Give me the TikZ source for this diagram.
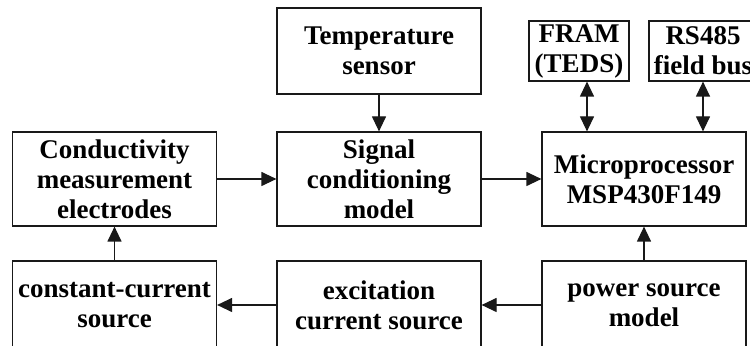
\documentclass[tikz,border=0pt]{standalone}
\usepackage{fontspec}
\setmainfont{Liberation Serif}
\usetikzlibrary{positioning,arrows.meta}
\definecolor{graydarker}{gray}{0.1}
\colorlet{blockline}{graydarker}
\tikzset{
  block/.style={draw=blockline, line width=0.6pt, minimum width=102pt, minimum height=47pt,
    inner sep=0pt, align=center, font=\fontsize{13.5}{15}\selectfont\bfseries},
  smallblock/.style={block, minimum width=50pt, minimum height=30pt},
  link/.style={draw=blockline, line width=0.6pt, -{Triangle[length=7.5pt,width=7pt]}},
  duplex/.style={link, {Triangle[length=7.5pt,width=7pt]}-{Triangle[length=7.5pt,width=7pt]}}
}

\begin{document}
\begin{tikzpicture}[x=0.5pt,y=0.5pt] % one unit = one pixel of the reference
\useasboundingbox (0,0) rectangle (750,-346);
% top row
\node[block, minimum height=43pt] (temp) at (379,-51) {Temperature\\sensor};
\node[smallblock] (fram) at (579,-51) {FRAM\\(TEDS)};
\node[smallblock, minimum width=54pt] (bus) at (703,-51) {RS485\\field bus};
% middle row
\node[block] (electrodes) at (114.5,-179) {Conductivity\\measurement\\electrodes};
\node[block] (signal) at (379,-179) {Signal\\conditioning\\model};
\node[block] (mcu) at (644,-179) {Microprocessor\\MSP430F149};
% bottom row, cut off by the page edge
\node[block, minimum height=44pt] (ccsource) at (114.5,-305) {constant-current\\source};
\node[block, minimum height=44pt] (excitation) at (379,-305) {excitation\\current source};
\node[block, minimum height=44pt] (power) at (644,-305) {power source\\model};
% connectors
\draw[link] (temp) -- (signal);
\draw[link] (electrodes) -- (signal);
\draw[link] (signal) -- (mcu);
\draw[duplex] ([xshift=4pt]fram.south) -- ([xshift=4pt]fram.south |- mcu.north);
\draw[duplex] (bus.south) -- (bus.south |- mcu.north);
\draw[link] (power) -- (mcu);
\draw[link] (power) -- (excitation);
\draw[link] (excitation) -- (ccsource);
\draw[link] (ccsource) -- (electrodes);
\end{tikzpicture}
\end{document}
